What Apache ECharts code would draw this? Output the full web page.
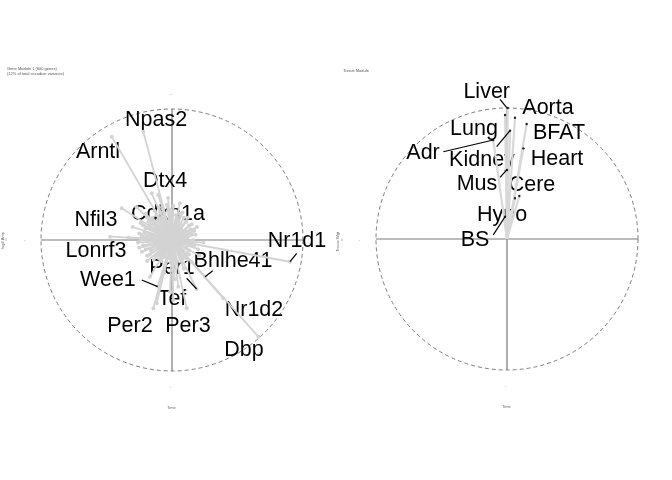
<!DOCTYPE html>
<html><head><meta charset="utf-8">
<script src="https://cdn.jsdelivr.net/npm/echarts@6/dist/echarts.min.js"></script>
<style>html,body{margin:0;padding:0;background:#fff}#c{width:672px;height:480px}</style>
</head><body><div id="c"></div>
<script>
// ---------- DATA ----------
// Gene module: labelled genes (vector end points, unit = dashed circle radius)
const geneNames = ['Npas2','Arntl','Dtx4','Cdkn1a','Nfil3','Lonrf3','Nr1d1','Bhlhe41','Per1','Wee1','Tef','Per2','Per3','Nr1d2','Dbp'];
const geneX = [-0.219,-0.46,-0.155,-0.10,-0.384,-0.473,0.90,0.252,0.188,-0.109,-0.015,-0.142,0.112,0.392,0.659];
const geneY = [0.827,0.789,0.356,0.25,0.242,0.025,-0.166,-0.280,-0.374,-0.356,-0.395,-0.521,-0.521,-0.445,-0.738];
// remaining (unlabelled) genes of the module, estimated
const otherGenes = [
[0.16,0.00],[0.12,0.02],[0.15,0.05],[0.09,0.03],[0.14,0.08],[0.10,0.07],[0.13,0.11],[0.07,0.08],[0.11,0.14],[0.06,0.12],
[0.09,0.17],[0.04,0.15],[0.06,0.20],[0.02,0.11],[0.03,0.19],[0.00,0.21],[-0.02,0.16],[-0.03,0.22],[-0.05,0.13],[-0.06,0.20],
[-0.08,0.17],[-0.09,0.21],[-0.11,0.15],[-0.12,0.19],[-0.14,0.13],[-0.15,0.17],[-0.17,0.11],[-0.18,0.14],[-0.20,0.09],[-0.12,0.08],
[-0.21,0.06],[-0.16,0.04],[-0.23,0.03],[-0.10,0.03],[-0.24,0.00],[-0.19,-0.01],[-0.22,-0.04],[-0.14,-0.03],[-0.20,-0.07],[-0.16,-0.08],
[-0.17,-0.11],[-0.10,-0.06],[-0.13,-0.12],[-0.09,-0.11],[-0.10,-0.14],[-0.06,-0.09],[-0.06,-0.13],[-0.03,-0.11],[-0.02,-0.14],[0.01,-0.09],
[0.02,-0.13],[0.05,-0.10],[0.06,-0.13],[0.08,-0.08],[0.10,-0.11],[0.11,-0.06],[0.13,-0.08],[0.07,-0.04],[0.14,-0.04],[0.16,-0.02],
[0.05,0.05],[-0.05,0.06],[-0.04,-0.05],[0.04,-0.03],[0.24,-0.02],[0.20,-0.07],[0.18,0.04],[-0.27,0.25],[-0.105,0.344],[-0.03,0.32],
[0.01,0.26],[-0.20,0.20],[-0.30,0.10],[-0.25,-0.06],[-0.168,-0.28],[-0.117,-0.483],[0.01,-0.458],[0.048,-0.356],[-0.06,-0.25],[0.09,-0.22],
[0.15,-0.17],[0.21,-0.12],[-0.19,-0.16],[0.06,0.28],[0.02,-0.30],[-0.33,0.02],[0.19,0.10],[-0.24,0.13],[0.12,-0.15],[-0.04,0.27],
[0.17,0.07],[0.15,0.12],[0.12,0.17],[0.08,0.21],[-0.01,0.23],[-0.07,0.24],[-0.13,0.22],[-0.19,0.17],[-0.22,0.11],[-0.25,0.05],
[-0.26,-0.02],[-0.23,-0.09],[-0.19,-0.12],[-0.14,-0.15],[-0.08,-0.16],[-0.01,-0.17],[0.04,-0.16],[0.09,-0.14],[0.13,-0.11],[0.17,-0.05]
];
// Tissue module
const tissueNames = ['Liver','Lung','Aorta','BFAT','Kidney','Adr','Heart','Mus','Cere','Hypo','BS'];
const tissueX = [0.005,-0.015,0.061,0.15,0.023,-0.105,0.125,0.0,0.094,0.061,-0.015];
const tissueY = [1.0,0.947,0.926,0.878,0.827,0.756,0.692,0.527,0.328,0.311,0.17];

// ---------- LAYOUT (label anchors & leader lines, in axis units) ----------
const geneLabelPos = [[-0.122,0.916],[-0.565,0.672],[-0.053,0.450],[-0.031,0.198],[-0.580,0.153],[-0.580,-0.084],[0.954,-0.008],
  [0.466,-0.160],[0.0,-0.214],[-0.489,-0.305],[0.0,-0.450],[-0.321,-0.656],[0.122,-0.656],[0.626,-0.534],[0.550,-0.840]];
const geneLeaders = [[0.952,-0.102,0.901,-0.166],[0.311,-0.234,0.252,-0.280],[0.112,-0.292,0.188,-0.374],[-0.231,-0.305,-0.109,-0.356]];
const tissueLabelPos = [[-0.155,1.124],[-0.252,0.840],[0.313,1.0],[0.397,0.809],[-0.191,0.603],[-0.641,0.656],[0.382,0.611],
  [-0.229,0.420],[0.191,0.412],[-0.038,0.183],[-0.244,-0.008]];
const tissueLeaders = [[-0.053,1.066,-0.002,1.002],[-0.486,0.666,-0.105,0.756],[-0.079,0.705,0.023,0.827],
  [-0.053,0.471,-0.002,0.527],[-0.105,0.031,-0.015,0.170]];
const crossLines = [[-1,0,1,0],[0,-1,0,1]];

// ---------- CHART ----------
const chart = echarts.init(document.getElementById('c'), null, {renderer:'canvas'});
const FONT = 'Liberation Sans, Arial, Helvetica, sans-serif';
const LIM = 1.25;

function circleSeries(gi){
  return {type:'custom', xAxisIndex:gi, yAxisIndex:gi, z:1, silent:true, data:[[0,0]], encode:{x:0,y:1},
    renderItem:function(p, api){
      const c = api.coord([0,0]); const e = api.coord([1,0]);
      return {type:'circle', shape:{cx:c[0], cy:c[1], r:e[0]-c[0]},
        style:{fill:'transparent', stroke:'#6e6e6e', lineWidth:0.9, lineDash:[4,3]}};
    }};
}
function segSeries(gi, data, color, lw, z){
  return {type:'custom', xAxisIndex:gi, yAxisIndex:gi, z:z, silent:true, data:data, encode:{x:[0,2],y:[1,3]},
    renderItem:function(p, api){
      const a = api.coord([api.value(0), api.value(1)]); const b = api.coord([api.value(2), api.value(3)]);
      return {type:'line', shape:{x1:a[0],y1:a[1],x2:b[0],y2:b[1]}, style:{stroke:color, lineWidth:lw}};
    }};
}
function vecSeries(gi, data, lineColor, dotColor, dotR, lw, z){
  return {type:'custom', xAxisIndex:gi, yAxisIndex:gi, z:z, silent:true, data:data, encode:{x:0,y:1},
    renderItem:function(p, api){
      const o = api.coord([0,0]); const e = api.coord([api.value(0), api.value(1)]);
      return {type:'group', children:[
        {type:'line', shape:{x1:o[0],y1:o[1],x2:e[0],y2:e[1]}, style:{stroke:lineColor, lineWidth:lw}},
        {type:'circle', shape:{cx:e[0],cy:e[1],r:dotR}, style:{fill:dotColor}}
      ]};
    }};
}
function labelSeries(gi, names, pos){
  return {type:'custom', xAxisIndex:gi, yAxisIndex:gi, z:2, silent:true, encode:{x:0,y:1},
    data:names.map((n,i)=>({name:n, value:pos[i]})),
    renderItem:function(p, api){
      const c = api.coord([api.value(0), api.value(1)]);
      return {type:'text', x:c[0], y:c[1], style:{text:names[p.dataIndex], fill:'#000', fontSize:21.5,
        fontFamily:FONT, align:'center', verticalAlign:'middle'}};
    }};
}

const geneData = geneNames.map((n,i)=>[geneX[i], geneY[i]]);
const tissueData = tissueNames.map((n,i)=>[tissueX[i], tissueY[i]]);

const axisX = gi => ({type:'value', gridIndex:gi, min:-LIM, max:LIM, show:false});
const axisY = gi => ({type:'value', gridIndex:gi, min:-LIM, max:LIM, show:false});

const tiny = {fontSize:4, fontWeight:'normal', color:'#555', fontFamily:FONT};
chart.setOption({
  animation:false,
  backgroundColor:'#fff',
  title:[
    {text:'Gene Module 1 (600 genes)\n(12% of total circadian variance)', left:7, top:67, padding:0, textStyle:Object.assign({lineHeight:4.5}, tiny)},
    {text:'Tissue Module', left:343, top:69, padding:0, textStyle:tiny}
  ],
  grid:[
    {left:8.25, top:76.25, width:327.5, height:327.5},
    {left:343.25, top:75.25, width:327.5, height:327.5}
  ],
  xAxis:[axisX(0), axisX(1)],
  yAxis:[axisY(0), axisY(1)],
  graphic:[
    {type:'text', left:1, top:232, rotation:Math.PI/2, style:{text:'log2 Amp', fontSize:4, fill:'#666', fontFamily:FONT}},
    {type:'text', left:5, top:238, style:{text:'0', fontSize:3.5, fill:'#999', fontFamily:FONT}},
    {type:'text', left:24, top:238, style:{text:'-', fontSize:4, fill:'#999', fontFamily:FONT}},
    {type:'text', left:170, top:92, style:{text:'--', fontSize:3.5, fill:'#999', fontFamily:FONT}},
    {type:'text', left:170, top:385, style:{text:'-', fontSize:4, fill:'#999', fontFamily:FONT}},
    {type:'text', left:167, top:406, style:{text:'Time', fontSize:4, fill:'#666', fontFamily:FONT}},
    {type:'text', left:336, top:232, rotation:Math.PI/2, style:{text:'Tissue Wgt', fontSize:4, fill:'#666', fontFamily:FONT}},
    {type:'text', left:341, top:238, style:{text:'0', fontSize:3.5, fill:'#999', fontFamily:FONT}},
    {type:'text', left:359, top:238, style:{text:'-', fontSize:4, fill:'#999', fontFamily:FONT}},
    {type:'text', left:505, top:384, style:{text:'-', fontSize:4, fill:'#999', fontFamily:FONT}},
    {type:'text', left:502, top:405, style:{text:'Time', fontSize:4, fill:'#666', fontFamily:FONT}}
  ],
  series:[
    circleSeries(0),
    segSeries(0, crossLines, '#7a7a7a', 1.2, 1),
    labelSeries(0, geneNames, geneLabelPos),
    vecSeries(0, otherGenes, '#d3d3d3', '#d3d3d3', 2, 1.8, 3),
    vecSeries(0, geneData, '#d3d3d3', '#d3d3d3', 2, 1.8, 3),
    segSeries(0, geneLeaders, '#000', 1.2, 4),
    circleSeries(1),
    segSeries(1, crossLines, '#7a7a7a', 1.2, 1),
    labelSeries(1, tissueNames, tissueLabelPos),
    vecSeries(1, tissueData, '#d9d9d9', '#222', 1.2, 2.2, 3),
    segSeries(1, tissueLeaders, '#000', 1.2, 4)
  ]
});
</script></body></html>
